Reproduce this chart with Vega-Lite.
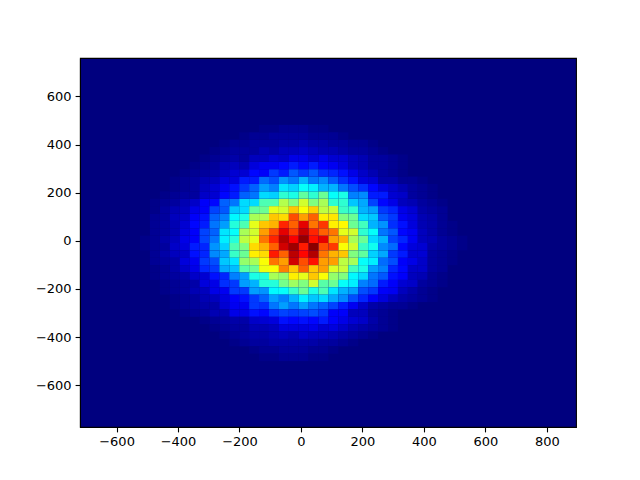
{"$schema":"https://vega.github.io/schema/vega-lite/v6.json","width":496,"height":369,"autosize":"none","padding":{"left":80,"top":58,"right":64,"bottom":53},"background":"white","config":{"view":{"fill":"#00007f","stroke":"black","strokeWidth":1.1},"axis":{"grid":false,"title":null,"domainColor":"black","tickColor":"black","labelColor":"black","labelFont":"DejaVu Sans","labelFontSize":13,"tickSize":4.9,"labelPadding":4,"tickWidth":1.1,"domainWidth":1.1}},"data":{"values":[
{"x":-442,"y":14,"v":4},{"x":-410,"y":14,"v":6},{"x":-378,"y":14,"v":10},{"x":-346,"y":14,"v":12},{"x":-313,"y":14,"v":19},{"x":-281,"y":14,"v":24},{"x":-249,"y":14,"v":36},{"x":-216,"y":14,"v":41},{"x":-184,"y":14,"v":56},{"x":-152,"y":14,"v":60},{"x":-120,"y":14,"v":76},{"x":-87,"y":14,"v":84},{"x":-55,"y":14,"v":95},{"x":-23,"y":14,"v":88},{"x":9,"y":14,"v":98},{"x":42,"y":14,"v":86},{"x":74,"y":14,"v":90},{"x":106,"y":14,"v":72},{"x":138,"y":14,"v":70},{"x":171,"y":14,"v":54},{"x":203,"y":14,"v":48},{"x":235,"y":14,"v":34},{"x":268,"y":14,"v":30},{"x":300,"y":14,"v":19},{"x":332,"y":14,"v":16},{"x":364,"y":14,"v":11},{"x":397,"y":14,"v":6},{"x":429,"y":14,"v":5},{"x":461,"y":14,"v":3},
{"x":-442,"y":-17,"v":3},{"x":-410,"y":-17,"v":7},{"x":-378,"y":-17,"v":9},{"x":-346,"y":-17,"v":15},{"x":-313,"y":-17,"v":16},{"x":-281,"y":-17,"v":27},{"x":-249,"y":-17,"v":33},{"x":-216,"y":-17,"v":45},{"x":-184,"y":-17,"v":50},{"x":-152,"y":-17,"v":66},{"x":-120,"y":-17,"v":70},{"x":-87,"y":-17,"v":78},{"x":-55,"y":-17,"v":92},{"x":-23,"y":-17,"v":97},{"x":9,"y":-17,"v":85},{"x":42,"y":-17,"v":99},{"x":74,"y":-17,"v":80},{"x":106,"y":-17,"v":82},{"x":138,"y":-17,"v":62},{"x":171,"y":-17,"v":58},{"x":203,"y":-17,"v":43},{"x":235,"y":-17,"v":39},{"x":268,"y":-17,"v":26},{"x":300,"y":-17,"v":23},{"x":332,"y":-17,"v":13},{"x":364,"y":-17,"v":9},{"x":397,"y":-17,"v":8},{"x":429,"y":-17,"v":4},{"x":461,"y":-17,"v":3},
{"x":-442,"y":44,"v":3},{"x":-410,"y":44,"v":5},{"x":-378,"y":44,"v":9},{"x":-346,"y":44,"v":12},{"x":-313,"y":44,"v":19},{"x":-281,"y":44,"v":22},{"x":-249,"y":44,"v":35},{"x":-216,"y":44,"v":38},{"x":-184,"y":44,"v":54},{"x":-152,"y":44,"v":58},{"x":-120,"y":44,"v":72},{"x":-87,"y":44,"v":80},{"x":-55,"y":44,"v":90},{"x":-23,"y":44,"v":82},{"x":9,"y":44,"v":93},{"x":42,"y":44,"v":84},{"x":74,"y":44,"v":78},{"x":106,"y":44,"v":76},{"x":138,"y":44,"v":60},{"x":171,"y":44,"v":58},{"x":203,"y":44,"v":42},{"x":235,"y":44,"v":38},{"x":268,"y":44,"v":24},{"x":300,"y":44,"v":21},{"x":332,"y":44,"v":13},{"x":364,"y":44,"v":11},{"x":397,"y":44,"v":6},{"x":429,"y":44,"v":4},
{"x":-442,"y":-48,"v":4},{"x":-410,"y":-48,"v":6},{"x":-378,"y":-48,"v":7},{"x":-346,"y":-48,"v":14},{"x":-313,"y":-48,"v":16},{"x":-281,"y":-48,"v":26},{"x":-249,"y":-48,"v":29},{"x":-216,"y":-48,"v":43},{"x":-184,"y":-48,"v":48},{"x":-152,"y":-48,"v":64},{"x":-120,"y":-48,"v":66},{"x":-87,"y":-48,"v":85},{"x":-55,"y":-48,"v":78},{"x":-23,"y":-48,"v":94},{"x":9,"y":-48,"v":87},{"x":42,"y":-48,"v":95},{"x":74,"y":-48,"v":76},{"x":106,"y":-48,"v":70},{"x":138,"y":-48,"v":68},{"x":171,"y":-48,"v":50},{"x":203,"y":-48,"v":47},{"x":235,"y":-48,"v":33},{"x":268,"y":-48,"v":29},{"x":300,"y":-48,"v":18},{"x":332,"y":-48,"v":15},{"x":364,"y":-48,"v":8},{"x":397,"y":-48,"v":8},{"x":429,"y":-48,"v":3},
{"x":-442,"y":75,"v":3},{"x":-410,"y":75,"v":5},{"x":-378,"y":75,"v":8},{"x":-346,"y":75,"v":13},{"x":-313,"y":75,"v":15},{"x":-281,"y":75,"v":24},{"x":-249,"y":75,"v":28},{"x":-216,"y":75,"v":41},{"x":-184,"y":75,"v":45},{"x":-152,"y":75,"v":60},{"x":-120,"y":75,"v":68},{"x":-87,"y":75,"v":70},{"x":-55,"y":75,"v":84},{"x":-23,"y":75,"v":78},{"x":9,"y":75,"v":90},{"x":42,"y":75,"v":76},{"x":74,"y":75,"v":82},{"x":106,"y":75,"v":64},{"x":138,"y":75,"v":63},{"x":171,"y":75,"v":48},{"x":203,"y":75,"v":44},{"x":235,"y":75,"v":30},{"x":268,"y":75,"v":27},{"x":300,"y":75,"v":17},{"x":332,"y":75,"v":14},{"x":364,"y":75,"v":9},{"x":397,"y":75,"v":5},{"x":429,"y":75,"v":4},
{"x":-442,"y":-79,"v":3},{"x":-410,"y":-79,"v":4},{"x":-378,"y":-79,"v":9},{"x":-346,"y":-79,"v":11},{"x":-313,"y":-79,"v":18},{"x":-281,"y":-79,"v":20},{"x":-249,"y":-79,"v":32},{"x":-216,"y":-79,"v":35},{"x":-184,"y":-79,"v":52},{"x":-152,"y":-79,"v":54},{"x":-120,"y":-79,"v":62},{"x":-87,"y":-79,"v":76},{"x":-55,"y":-79,"v":72},{"x":-23,"y":-79,"v":92},{"x":9,"y":-79,"v":80},{"x":42,"y":-79,"v":86},{"x":74,"y":-79,"v":72},{"x":106,"y":-79,"v":72},{"x":138,"y":-79,"v":56},{"x":171,"y":-79,"v":54},{"x":203,"y":-79,"v":38},{"x":235,"y":-79,"v":36},{"x":268,"y":-79,"v":23},{"x":300,"y":-79,"v":20},{"x":332,"y":-79,"v":12},{"x":364,"y":-79,"v":10},{"x":397,"y":-79,"v":7},{"x":429,"y":-79,"v":3},
{"x":-442,"y":106,"v":3},{"x":-410,"y":106,"v":6},{"x":-378,"y":106,"v":7},{"x":-346,"y":106,"v":12},{"x":-313,"y":106,"v":14},{"x":-281,"y":106,"v":22},{"x":-249,"y":106,"v":25},{"x":-216,"y":106,"v":37},{"x":-184,"y":106,"v":40},{"x":-152,"y":106,"v":54},{"x":-120,"y":106,"v":55},{"x":-87,"y":106,"v":68},{"x":-55,"y":106,"v":66},{"x":-23,"y":106,"v":80},{"x":9,"y":106,"v":72},{"x":42,"y":106,"v":78},{"x":74,"y":106,"v":64},{"x":106,"y":106,"v":65},{"x":138,"y":106,"v":50},{"x":171,"y":106,"v":48},{"x":203,"y":106,"v":34},{"x":235,"y":106,"v":32},{"x":268,"y":106,"v":21},{"x":300,"y":106,"v":18},{"x":332,"y":106,"v":11},{"x":364,"y":106,"v":9},{"x":397,"y":106,"v":5},{"x":429,"y":106,"v":4},
{"x":-410,"y":-109,"v":4},{"x":-378,"y":-109,"v":7},{"x":-346,"y":-109,"v":10},{"x":-313,"y":-109,"v":16},{"x":-281,"y":-109,"v":18},{"x":-249,"y":-109,"v":29},{"x":-216,"y":-109,"v":31},{"x":-184,"y":-109,"v":46},{"x":-152,"y":-109,"v":48},{"x":-120,"y":-109,"v":61},{"x":-87,"y":-109,"v":62},{"x":-55,"y":-109,"v":75},{"x":-23,"y":-109,"v":68},{"x":9,"y":-109,"v":78},{"x":42,"y":-109,"v":68},{"x":74,"y":-109,"v":72},{"x":106,"y":-109,"v":59},{"x":138,"y":-109,"v":57},{"x":171,"y":-109,"v":44},{"x":203,"y":-109,"v":40},{"x":235,"y":-109,"v":28},{"x":268,"y":-109,"v":25},{"x":300,"y":-109,"v":16},{"x":332,"y":-109,"v":13},{"x":364,"y":-109,"v":7},{"x":397,"y":-109,"v":7},{"x":429,"y":-109,"v":3},
{"x":-442,"y":136,"v":3},{"x":-410,"y":136,"v":5},{"x":-378,"y":136,"v":6},{"x":-346,"y":136,"v":10},{"x":-313,"y":136,"v":12},{"x":-281,"y":136,"v":19},{"x":-249,"y":136,"v":21},{"x":-216,"y":136,"v":32},{"x":-184,"y":136,"v":34},{"x":-152,"y":136,"v":47},{"x":-120,"y":136,"v":48},{"x":-87,"y":136,"v":60},{"x":-55,"y":136,"v":58},{"x":-23,"y":136,"v":68},{"x":9,"y":136,"v":62},{"x":42,"y":136,"v":67},{"x":74,"y":136,"v":56},{"x":106,"y":136,"v":57},{"x":138,"y":136,"v":43},{"x":171,"y":136,"v":42},{"x":203,"y":136,"v":30},{"x":235,"y":136,"v":28},{"x":268,"y":136,"v":18},{"x":300,"y":136,"v":16},{"x":332,"y":136,"v":10},{"x":364,"y":136,"v":8},{"x":397,"y":136,"v":4},{"x":429,"y":136,"v":3},
{"x":-410,"y":-140,"v":3},{"x":-378,"y":-140,"v":4},{"x":-346,"y":-140,"v":7},{"x":-313,"y":-140,"v":8},{"x":-281,"y":-140,"v":14},{"x":-249,"y":-140,"v":16},{"x":-216,"y":-140,"v":25},{"x":-184,"y":-140,"v":28},{"x":-152,"y":-140,"v":40},{"x":-120,"y":-140,"v":41},{"x":-87,"y":-140,"v":54},{"x":-55,"y":-140,"v":52},{"x":-23,"y":-140,"v":64},{"x":9,"y":-140,"v":60},{"x":42,"y":-140,"v":68},{"x":74,"y":-140,"v":62},{"x":106,"y":-140,"v":52},{"x":138,"y":-140,"v":50},{"x":171,"y":-140,"v":37},{"x":203,"y":-140,"v":34},{"x":235,"y":-140,"v":24},{"x":268,"y":-140,"v":21},{"x":300,"y":-140,"v":14},{"x":332,"y":-140,"v":12},{"x":364,"y":-140,"v":6},{"x":397,"y":-140,"v":5},
{"x":-410,"y":167,"v":3},{"x":-378,"y":167,"v":5},{"x":-346,"y":167,"v":7},{"x":-313,"y":167,"v":12},{"x":-281,"y":167,"v":13},{"x":-249,"y":167,"v":22},{"x":-216,"y":167,"v":24},{"x":-184,"y":167,"v":34},{"x":-152,"y":167,"v":34},{"x":-120,"y":167,"v":45},{"x":-87,"y":167,"v":45},{"x":-55,"y":167,"v":55},{"x":-23,"y":167,"v":50},{"x":9,"y":167,"v":58},{"x":42,"y":167,"v":50},{"x":74,"y":167,"v":54},{"x":106,"y":167,"v":42},{"x":138,"y":167,"v":42},{"x":171,"y":167,"v":32},{"x":203,"y":167,"v":29},{"x":235,"y":167,"v":19},{"x":268,"y":167,"v":13},{"x":300,"y":167,"v":10},{"x":332,"y":167,"v":6},{"x":364,"y":167,"v":5},{"x":397,"y":167,"v":3},
{"x":-378,"y":-171,"v":3},{"x":-346,"y":-171,"v":4},{"x":-313,"y":-171,"v":9},{"x":-281,"y":-171,"v":10},{"x":-249,"y":-171,"v":17},{"x":-216,"y":-171,"v":18},{"x":-184,"y":-171,"v":28},{"x":-152,"y":-171,"v":30},{"x":-120,"y":-171,"v":41},{"x":-87,"y":-171,"v":41},{"x":-55,"y":-171,"v":49},{"x":-23,"y":-171,"v":53},{"x":9,"y":-171,"v":50},{"x":42,"y":-171,"v":58},{"x":74,"y":-171,"v":46},{"x":106,"y":-171,"v":48},{"x":138,"y":-171,"v":38},{"x":171,"y":-171,"v":36},{"x":203,"y":-171,"v":25},{"x":235,"y":-171,"v":23},{"x":268,"y":-171,"v":15},{"x":300,"y":-171,"v":12},{"x":332,"y":-171,"v":8},{"x":364,"y":-171,"v":7},{"x":397,"y":-171,"v":3},
{"x":-378,"y":198,"v":3},{"x":-346,"y":198,"v":3},{"x":-313,"y":198,"v":7},{"x":-281,"y":198,"v":8},{"x":-249,"y":198,"v":13},{"x":-216,"y":198,"v":15},{"x":-184,"y":198,"v":22},{"x":-152,"y":198,"v":24},{"x":-120,"y":198,"v":34},{"x":-87,"y":198,"v":33},{"x":-55,"y":198,"v":42},{"x":-23,"y":198,"v":40},{"x":9,"y":198,"v":47},{"x":42,"y":198,"v":42},{"x":74,"y":198,"v":48},{"x":106,"y":198,"v":38},{"x":138,"y":198,"v":40},{"x":171,"y":198,"v":25},{"x":203,"y":198,"v":26},{"x":235,"y":198,"v":15},{"x":268,"y":198,"v":15},{"x":300,"y":198,"v":8},{"x":332,"y":198,"v":7},{"x":364,"y":198,"v":3},
{"x":-378,"y":-201,"v":3},{"x":-346,"y":-201,"v":5},{"x":-313,"y":-201,"v":6},{"x":-281,"y":-201,"v":10},{"x":-249,"y":-201,"v":11},{"x":-216,"y":-201,"v":18},{"x":-184,"y":-201,"v":18},{"x":-152,"y":-201,"v":28},{"x":-120,"y":-201,"v":27},{"x":-87,"y":-201,"v":37},{"x":-55,"y":-201,"v":38},{"x":-23,"y":-201,"v":43},{"x":9,"y":-201,"v":48},{"x":42,"y":-201,"v":40},{"x":74,"y":-201,"v":45},{"x":106,"y":-201,"v":35},{"x":138,"y":-201,"v":30},{"x":171,"y":-201,"v":28},{"x":203,"y":-201,"v":20},{"x":235,"y":-201,"v":18},{"x":268,"y":-201,"v":12},{"x":300,"y":-201,"v":11},{"x":332,"y":-201,"v":6},{"x":364,"y":-201,"v":4},
{"x":-346,"y":228,"v":3},{"x":-313,"y":228,"v":6},{"x":-281,"y":228,"v":8},{"x":-249,"y":228,"v":11},{"x":-216,"y":228,"v":14},{"x":-184,"y":228,"v":18},{"x":-152,"y":228,"v":22},{"x":-120,"y":228,"v":28},{"x":-87,"y":228,"v":25},{"x":-55,"y":228,"v":35},{"x":-23,"y":228,"v":33},{"x":9,"y":228,"v":38},{"x":42,"y":228,"v":36},{"x":74,"y":228,"v":30},{"x":106,"y":228,"v":30},{"x":138,"y":228,"v":24},{"x":171,"y":228,"v":20},{"x":203,"y":228,"v":17},{"x":235,"y":228,"v":13},{"x":268,"y":228,"v":9},{"x":300,"y":228,"v":7},{"x":332,"y":228,"v":5},{"x":364,"y":228,"v":3},
{"x":-346,"y":-232,"v":3},{"x":-313,"y":-232,"v":5},{"x":-281,"y":-232,"v":6},{"x":-249,"y":-232,"v":9},{"x":-216,"y":-232,"v":12},{"x":-184,"y":-232,"v":14},{"x":-152,"y":-232,"v":18},{"x":-120,"y":-232,"v":22},{"x":-87,"y":-232,"v":28},{"x":-55,"y":-232,"v":25},{"x":-23,"y":-232,"v":30},{"x":9,"y":-232,"v":36},{"x":42,"y":-232,"v":32},{"x":74,"y":-232,"v":34},{"x":106,"y":-232,"v":29},{"x":138,"y":-232,"v":26},{"x":171,"y":-232,"v":20},{"x":203,"y":-232,"v":16},{"x":235,"y":-232,"v":12},{"x":268,"y":-232,"v":9},{"x":300,"y":-232,"v":6},{"x":332,"y":-232,"v":4},{"x":364,"y":-232,"v":3},
{"x":-346,"y":259,"v":3},{"x":-313,"y":259,"v":5},{"x":-281,"y":259,"v":6},{"x":-249,"y":259,"v":9},{"x":-216,"y":259,"v":9},{"x":-184,"y":259,"v":15},{"x":-152,"y":259,"v":15},{"x":-120,"y":259,"v":23},{"x":-87,"y":259,"v":20},{"x":-55,"y":259,"v":27},{"x":-23,"y":259,"v":24},{"x":9,"y":259,"v":30},{"x":42,"y":259,"v":24},{"x":74,"y":259,"v":26},{"x":106,"y":259,"v":21},{"x":138,"y":259,"v":17},{"x":171,"y":259,"v":14},{"x":203,"y":259,"v":9},{"x":235,"y":259,"v":8},{"x":268,"y":259,"v":4},{"x":300,"y":259,"v":4},
{"x":-346,"y":-263,"v":3},{"x":-313,"y":-263,"v":4},{"x":-281,"y":-263,"v":4},{"x":-249,"y":-263,"v":8},{"x":-216,"y":-263,"v":11},{"x":-184,"y":-263,"v":11},{"x":-152,"y":-263,"v":18},{"x":-120,"y":-263,"v":17},{"x":-87,"y":-263,"v":24},{"x":-55,"y":-263,"v":28},{"x":-23,"y":-263,"v":24},{"x":9,"y":-263,"v":28},{"x":42,"y":-263,"v":24},{"x":74,"y":-263,"v":22},{"x":106,"y":-263,"v":19},{"x":138,"y":-263,"v":15},{"x":171,"y":-263,"v":11},{"x":203,"y":-263,"v":7},{"x":235,"y":-263,"v":4},{"x":268,"y":-263,"v":3},
{"x":-313,"y":290,"v":3},{"x":-281,"y":290,"v":4},{"x":-249,"y":290,"v":6},{"x":-216,"y":290,"v":8},{"x":-184,"y":290,"v":8},{"x":-152,"y":290,"v":13},{"x":-120,"y":290,"v":12},{"x":-87,"y":290,"v":18},{"x":-55,"y":290,"v":15},{"x":-23,"y":290,"v":21},{"x":9,"y":290,"v":18},{"x":42,"y":290,"v":21},{"x":74,"y":290,"v":17},{"x":106,"y":290,"v":16},{"x":138,"y":290,"v":14},{"x":171,"y":290,"v":10},{"x":203,"y":290,"v":7},{"x":235,"y":290,"v":5},{"x":268,"y":290,"v":3},
{"x":-313,"y":-293,"v":3},{"x":-281,"y":-293,"v":5},{"x":-249,"y":-293,"v":5},{"x":-216,"y":-293,"v":10},{"x":-184,"y":-293,"v":10},{"x":-152,"y":-293,"v":14},{"x":-120,"y":-293,"v":13},{"x":-87,"y":-293,"v":17},{"x":-55,"y":-293,"v":19},{"x":-23,"y":-293,"v":18},{"x":9,"y":-293,"v":19},{"x":42,"y":-293,"v":20},{"x":74,"y":-293,"v":18},{"x":106,"y":-293,"v":12},{"x":138,"y":-293,"v":12},{"x":171,"y":-293,"v":6},{"x":203,"y":-293,"v":6},{"x":235,"y":-293,"v":3},
{"x":-281,"y":321,"v":3},{"x":-249,"y":321,"v":5},{"x":-216,"y":321,"v":6},{"x":-184,"y":321,"v":5},{"x":-152,"y":321,"v":9},{"x":-120,"y":321,"v":11},{"x":-87,"y":321,"v":11},{"x":-55,"y":321,"v":13},{"x":-23,"y":321,"v":15},{"x":9,"y":321,"v":13},{"x":42,"y":321,"v":15},{"x":74,"y":321,"v":12},{"x":106,"y":321,"v":11},{"x":138,"y":321,"v":9},{"x":171,"y":321,"v":6},{"x":203,"y":321,"v":5},{"x":235,"y":321,"v":3},{"x":268,"y":321,"v":3},
{"x":-249,"y":-324,"v":3},{"x":-216,"y":-324,"v":4},{"x":-184,"y":-324,"v":4},{"x":-152,"y":-324,"v":7},{"x":-120,"y":-324,"v":8},{"x":-87,"y":-324,"v":9},{"x":-55,"y":-324,"v":14},{"x":-23,"y":-324,"v":13},{"x":9,"y":-324,"v":14},{"x":42,"y":-324,"v":13},{"x":74,"y":-324,"v":15},{"x":106,"y":-324,"v":12},{"x":138,"y":-324,"v":10},{"x":171,"y":-324,"v":8},{"x":203,"y":-324,"v":7},{"x":235,"y":-324,"v":4},
{"x":-249,"y":351,"v":3},{"x":-216,"y":351,"v":4},{"x":-184,"y":351,"v":3},{"x":-152,"y":351,"v":6},{"x":-120,"y":351,"v":6},{"x":-87,"y":351,"v":8},{"x":-55,"y":351,"v":7},{"x":-23,"y":351,"v":10},{"x":9,"y":351,"v":10},{"x":42,"y":351,"v":8},{"x":74,"y":351,"v":10},{"x":106,"y":351,"v":8},{"x":138,"y":351,"v":8},{"x":171,"y":351,"v":6},{"x":203,"y":351,"v":5},{"x":235,"y":351,"v":3},{"x":268,"y":351,"v":3},
{"x":-216,"y":-355,"v":3},{"x":-184,"y":-355,"v":3},{"x":-152,"y":-355,"v":5},{"x":-120,"y":-355,"v":5},{"x":-87,"y":-355,"v":6},{"x":-55,"y":-355,"v":9},{"x":-23,"y":-355,"v":9},{"x":9,"y":-355,"v":9},{"x":42,"y":-355,"v":10},{"x":74,"y":-355,"v":8},{"x":106,"y":-355,"v":9},{"x":138,"y":-355,"v":7},{"x":171,"y":-355,"v":5},{"x":203,"y":-355,"v":4},{"x":235,"y":-355,"v":3},
{"x":-216,"y":382,"v":3},{"x":-184,"y":382,"v":3},{"x":-152,"y":382,"v":3},{"x":-120,"y":382,"v":5},{"x":-87,"y":382,"v":4},{"x":-55,"y":382,"v":6},{"x":-23,"y":382,"v":6},{"x":9,"y":382,"v":7},{"x":42,"y":382,"v":6},{"x":74,"y":382,"v":5},{"x":106,"y":382,"v":5},{"x":138,"y":382,"v":4},{"x":171,"y":382,"v":3},{"x":203,"y":382,"v":3},
{"x":-184,"y":-385,"v":3},{"x":-152,"y":-385,"v":4},{"x":-120,"y":-385,"v":4},{"x":-87,"y":-385,"v":5},{"x":-55,"y":-385,"v":6},{"x":-23,"y":-385,"v":5},{"x":9,"y":-385,"v":7},{"x":42,"y":-385,"v":6},{"x":74,"y":-385,"v":6},{"x":106,"y":-385,"v":5},{"x":138,"y":-385,"v":4},{"x":171,"y":-385,"v":3},
{"x":-152,"y":413,"v":3},{"x":-120,"y":413,"v":3},{"x":-87,"y":413,"v":3},{"x":-55,"y":413,"v":4},{"x":-23,"y":413,"v":4},{"x":9,"y":413,"v":5},{"x":42,"y":413,"v":4},{"x":74,"y":413,"v":4},{"x":106,"y":413,"v":3},{"x":138,"y":413,"v":3},
{"x":-152,"y":-416,"v":3},{"x":-120,"y":-416,"v":3},{"x":-87,"y":-416,"v":4},{"x":-55,"y":-416,"v":4},{"x":-23,"y":-416,"v":4},{"x":9,"y":-416,"v":4},{"x":42,"y":-416,"v":4},{"x":74,"y":-416,"v":3},{"x":106,"y":-416,"v":3},
{"x":-87,"y":443,"v":3},{"x":-55,"y":443,"v":3},{"x":-23,"y":443,"v":3},{"x":9,"y":443,"v":3},
{"x":-55,"y":-447,"v":3},{"x":-23,"y":-447,"v":3},{"x":9,"y":-447,"v":3},
{"x":-507,"y":14,"v":1},{"x":-475,"y":14,"v":2},{"x":494,"y":14,"v":2},{"x":526,"y":14,"v":1},{"x":-507,"y":-17,"v":1},{"x":-475,"y":-17,"v":2},{"x":494,"y":-17,"v":2},{"x":526,"y":-17,"v":1},
{"x":-475,"y":44,"v":2},{"x":461,"y":44,"v":2},{"x":494,"y":44,"v":1},{"x":-475,"y":-48,"v":2},{"x":461,"y":-48,"v":2},{"x":494,"y":-48,"v":1},
{"x":-475,"y":75,"v":2},{"x":461,"y":75,"v":2},{"x":494,"y":75,"v":1},{"x":-475,"y":-79,"v":2},{"x":461,"y":-79,"v":2},{"x":494,"y":-79,"v":1},
{"x":-475,"y":106,"v":2},{"x":461,"y":106,"v":2},{"x":-442,"y":-109,"v":2},{"x":-475,"y":-109,"v":1},{"x":461,"y":-109,"v":2},
{"x":-475,"y":136,"v":1},{"x":461,"y":136,"v":2},{"x":-442,"y":-140,"v":2},{"x":-475,"y":-140,"v":1},{"x":429,"y":-140,"v":2},{"x":461,"y":-140,"v":1},
{"x":-442,"y":167,"v":2},{"x":-475,"y":167,"v":1},{"x":429,"y":167,"v":2},{"x":461,"y":167,"v":1},{"x":-410,"y":-171,"v":2},{"x":-442,"y":-171,"v":1},{"x":429,"y":-171,"v":2},{"x":461,"y":-171,"v":1},
{"x":-410,"y":198,"v":2},{"x":-442,"y":198,"v":1},{"x":397,"y":198,"v":2},{"x":429,"y":198,"v":1},{"x":-410,"y":-201,"v":2},{"x":-442,"y":-201,"v":1},{"x":397,"y":-201,"v":2},{"x":429,"y":-201,"v":1},
{"x":-378,"y":228,"v":2},{"x":-410,"y":228,"v":1},{"x":397,"y":228,"v":2},{"x":429,"y":228,"v":1},{"x":-378,"y":-232,"v":2},{"x":-410,"y":-232,"v":1},{"x":397,"y":-232,"v":2},{"x":429,"y":-232,"v":1},
{"x":-378,"y":259,"v":2},{"x":-410,"y":259,"v":1},{"x":332,"y":259,"v":2},{"x":364,"y":259,"v":2},{"x":397,"y":259,"v":1},{"x":-378,"y":-263,"v":2},{"x":-410,"y":-263,"v":1},{"x":300,"y":-263,"v":2},{"x":332,"y":-263,"v":2},{"x":364,"y":-263,"v":1},
{"x":-346,"y":290,"v":2},{"x":-378,"y":290,"v":1},{"x":300,"y":290,"v":2},{"x":332,"y":290,"v":1},{"x":-346,"y":-293,"v":2},{"x":-378,"y":-293,"v":1},{"x":268,"y":-293,"v":2},{"x":300,"y":-293,"v":1},
{"x":-313,"y":321,"v":2},{"x":-346,"y":321,"v":1},{"x":300,"y":321,"v":2},{"x":332,"y":321,"v":1},{"x":-281,"y":-324,"v":2},{"x":-313,"y":-324,"v":1},{"x":268,"y":-324,"v":2},{"x":300,"y":-324,"v":1},
{"x":-281,"y":351,"v":2},{"x":-313,"y":351,"v":1},{"x":300,"y":351,"v":2},{"x":332,"y":351,"v":1},{"x":-249,"y":-355,"v":2},{"x":-281,"y":-355,"v":1},{"x":268,"y":-355,"v":2},{"x":300,"y":-355,"v":1},
{"x":-249,"y":382,"v":2},{"x":-281,"y":382,"v":1},{"x":235,"y":382,"v":2},{"x":268,"y":382,"v":1},{"x":-216,"y":-385,"v":2},{"x":-249,"y":-385,"v":1},{"x":203,"y":-385,"v":2},{"x":235,"y":-385,"v":1},
{"x":-184,"y":413,"v":2},{"x":-216,"y":413,"v":2},{"x":-249,"y":413,"v":1},{"x":171,"y":413,"v":2},{"x":203,"y":413,"v":2},{"x":235,"y":413,"v":1},{"x":-184,"y":-416,"v":2},{"x":-216,"y":-416,"v":1},{"x":138,"y":-416,"v":2},{"x":171,"y":-416,"v":1},
{"x":-152,"y":443,"v":2},{"x":-120,"y":443,"v":2},{"x":-184,"y":443,"v":1},{"x":42,"y":443,"v":2},{"x":74,"y":443,"v":2},{"x":106,"y":443,"v":2},{"x":138,"y":443,"v":1},
{"x":-120,"y":-447,"v":2},{"x":-87,"y":-447,"v":2},{"x":-152,"y":-447,"v":1},{"x":42,"y":-447,"v":2},{"x":74,"y":-447,"v":2},{"x":106,"y":-447,"v":1},
{"x":-120,"y":474,"v":1},{"x":-87,"y":474,"v":1},{"x":-55,"y":474,"v":2},{"x":-23,"y":474,"v":2},{"x":9,"y":474,"v":2},{"x":42,"y":474,"v":1},{"x":74,"y":474,"v":1},
{"x":-120,"y":-477,"v":1},{"x":-87,"y":-477,"v":1},{"x":-55,"y":-477,"v":2},{"x":-23,"y":-477,"v":2},{"x":9,"y":-477,"v":2},{"x":42,"y":-477,"v":1},{"x":74,"y":-477,"v":1}
]},"mark":{"type":"rect"},"encoding":{"x":{"field":"x","type":"quantitative","bin":{"step":32.28,"extent":[-719,895],"nice":false},"scale":{"domain":[-719,895],"nice":false,"zero":false},"axis":{"values":[-600,-400,-200,0,200,400,600,800],"format":"d"}},"y":{"field":"y","type":"quantitative","bin":{"step":30.68,"extent":[-774,760],"nice":false},"scale":{"domain":[-774,760],"nice":false,"zero":false},"axis":{"values":[-600,-400,-200,0,200,400,600],"format":"d"}},"color":{"aggregate":"sum","field":"v","type":"quantitative","legend":null,"scale":{"domain":[0,11,12.5,37.5,62.5,87.5,100],"range":["#00007f","#0000f1","#0000ff","#00ffff","#ffff00","#ff0000","#7f0000"],"interpolate":"rgb"}}}}
